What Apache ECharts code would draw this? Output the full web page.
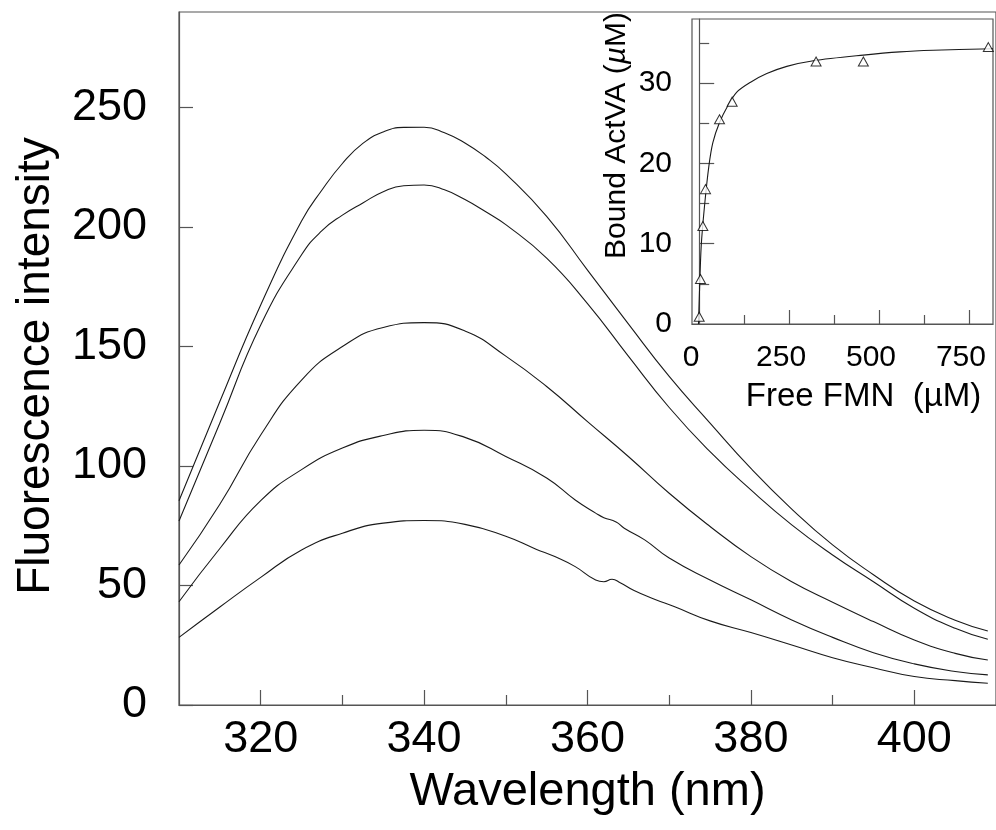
<!DOCTYPE html>
<html>
<head>
<meta charset="utf-8">
<script src="https://cdn.jsdelivr.net/npm/echarts@6/dist/echarts.min.js"></script>
<style>
html,body{margin:0;padding:0;background:#fff;}
#chart{width:996px;height:830px;}
</style>
</head>
<body>
<div id="chart"></div>
<script>
// ---- Main plot: emission spectra ----
const wavelengths1 = [310,315,320,325,327.5,330,332.5,335,337.5,340,342.5,345,347.5,350,355,360,365,370,375,380,385,390,395,400,405,409];
const curve1 = [85.5,127,167.4,202.5,215.5,226.6,235,239.8,241.7,241.8,239.5,235.2,229.4,222.3,204.5,182,159.5,137.5,118,99,82,67,54.5,43.5,35.5,31];
const wavelengths2 = [310,315,320,325,327.5,330,332.5,335,337.5,340,342.5,345,347.5,350,355,360,365,370,375,380,385,390,395,400,405,409];
const curve2 = [77,118,159,188.4,198.5,205,210.1,214.8,217.3,217.6,215.6,211.5,206.5,201,187,168,146,124.5,106,90,75.4,62.8,51.6,40.5,32.1,27.5];
const wavelengths = [310,315,320,325,330,335,340,345,350,355,360,365,370,375,380,385,390,395,400,405,409];
const curve3 = [58.6,84,113,136,150,158,160,156.5,146,133.3,118.6,104,88.6,74.7,62.1,51.6,43,34.9,27.2,21.6,18.8];
const wavelengths4 = [310,315,320,325,330,335,340,345,350,355,358.5,361,362,363.5,364.5,367,370,375,380,385,390,395,400,405,409];
const curve4 = [43.2,65.5,85.5,98.5,107.5,112.8,115,112,104,95,85.8,80.3,78.4,76.6,74,69.1,61.5,52.3,44,35.6,28.3,21.9,17.2,14,12.6];
const wavelengths5 = [310,315,320,325,330,335,340,345,350,353.7,356,358.5,361,362,363,364,365.7,368.2,370.6,375,380,385,390,395,400,405,409];
const curve5 = [28.3,41,53.4,64.9,71.9,76.1,77.2,75.6,70.6,65.2,62.1,57.9,52.3,51.6,52.6,51.2,47.9,44.3,41.2,35.2,30.3,25.1,19.8,15.6,11.9,10.2,9.1];

const mainYTicks = [0,50,100,150,200,250];
const mainXMajorTicks = [320,340,360,380,400];
const mainXMinorTicks = [330,350,370,390];

// ---- Inset: binding isotherm ----
const freeFMN = [0,3.6,10.2,17.6,56.5,91.7,325,456.5,804];
const boundActVA = [0.9,5.6,12.2,16.8,25.5,27.7,32.7,32.7,34.5];
const fitFreeFMN = [-2,1,5.6,14.8,27,38,56.5,79.6,104.6,141.7,188,243.6,317.6,456.4,558,651,817];
const fitBound = [0,4.3,9.7,14.7,19.7,22.6,25.1,27.2,28.9,30.1,31.2,32.1,32.8,33.5,33.9,34.1,34.3];

const insetXLabels = [0,250,500,750];
const insetXMajorTicks = [250,500,750];
const insetXMinorTicks = [125,375,625];
const insetYLabels = [0,10,20,30];
const insetYMajorTicks = [10,20,30];
const insetYMinorTicks = [5,15,25,35];

function pairs(xs, ys){ return xs.map((x,i)=>[x, ys[i]]); }

const FONT = "'Liberation Sans', Arial, Helvetica, sans-serif";
const AXIS_COLOR = '#555';
const LINE_COLOR = '#1a1a1a';

const chart = echarts.init(document.getElementById('chart'), null, {renderer:'canvas'});

function spectrum(xs, ys){
  return {
    type:'line', xAxisIndex:0, yAxisIndex:0,
    data: pairs(xs, ys), showSymbol:false, smooth:0.5,
    lineStyle:{color:LINE_COLOR, width:1.1}, silent:true
  };
}

chart.setOption({
  animation:false,
  backgroundColor:'#fff',
  grid:[
    {left:179, top:12, width:827, height:693, show:true, borderColor:AXIS_COLOR, borderWidth:1.2, backgroundColor:'transparent'},
    {left:692, top:19, width:301, height:305, show:true, borderColor:AXIS_COLOR, borderWidth:1.2, backgroundColor:'#fff', z:5}
  ],
  xAxis:[
    {
      gridIndex:0, type:'value', min:310, max:410, position:'bottom',
      axisLine:{show:true, lineStyle:{color:AXIS_COLOR, width:1.2}},
      axisTick:{show:true, inside:true, length:15, customValues:mainXMajorTicks, lineStyle:{color:AXIS_COLOR, width:1.2}},
      axisLabel:{show:true, customValues:mainXMajorTicks, fontSize:45, fontFamily:FONT, color:'#000', margin:12},
      splitLine:{show:false},
      name:'Wavelength (nm)', nameLocation:'middle', nameGap:64,
      nameTextStyle:{fontSize:47, fontFamily:FONT, color:'#000', padding:[0,0,0,0]}
    },
    {
      gridIndex:0, type:'value', min:310, max:410, position:'bottom',
      axisLine:{show:false},
      axisTick:{show:true, inside:true, length:10, customValues:mainXMinorTicks, lineStyle:{color:AXIS_COLOR, width:1.2}},
      axisLabel:{show:false}, splitLine:{show:false}
    },
    {
      gridIndex:1, type:'value', min:-20, max:817, position:'bottom', z:6,
      axisLine:{show:true, lineStyle:{color:AXIS_COLOR, width:1.2}},
      axisTick:{show:true, inside:true, length:14, customValues:insetXMajorTicks, lineStyle:{color:AXIS_COLOR, width:1.2}},
      axisLabel:{show:true, customValues:insetXLabels, fontSize:30, fontFamily:FONT, color:'#000', margin:19, padding:[0,16,0,0]},
      splitLine:{show:false},
      name:'Free FMN  (µM)', nameLocation:'middle', nameGap:56,
      nameTextStyle:{fontSize:33, fontFamily:FONT, color:'#000', padding:[0,0,0,42]}
    },
    {
      gridIndex:1, type:'value', min:-20, max:817, position:'bottom', z:6,
      axisLine:{show:false},
      axisTick:{show:true, inside:true, length:9, customValues:insetXMinorTicks, lineStyle:{color:AXIS_COLOR, width:1.2}},
      axisLabel:{show:false}, splitLine:{show:false}
    }
  ],
  yAxis:[
    {
      gridIndex:0, type:'value', min:0, max:290, position:'left',
      axisLine:{show:true, lineStyle:{color:AXIS_COLOR, width:1.2}},
      axisTick:{show:true, inside:true, length:14, customValues:mainYTicks, lineStyle:{color:AXIS_COLOR, width:1.2}},
      axisLabel:{show:true, customValues:mainYTicks, fontSize:45, fontFamily:FONT, color:'#000', margin:32},
      splitLine:{show:false},
      name:'Fluorescence intensity', nameLocation:'middle', nameGap:120,
      nameTextStyle:{fontSize:46, fontFamily:FONT, color:'#000', padding:[0,15,0,0]}
    },
    {
      gridIndex:1, type:'value', min:0, max:38, position:'left', z:6,
      axisLine:{show:true, lineStyle:{color:AXIS_COLOR, width:1.2}},
      axisTick:{show:true, inside:true, length:15, customValues:insetYMajorTicks, lineStyle:{color:AXIS_COLOR, width:1.2}},
      axisLabel:{show:true, customValues:insetYLabels, fontSize:30, fontFamily:FONT, color:'#000', margin:20},
      splitLine:{show:false},
      name:'{a|Bound ActVA (}{i|µ}{a|M)}', nameLocation:'middle', nameGap:60,
      nameTextStyle:{color:'#000', padding:[0,0,0,72],
        rich:{a:{fontSize:30, fontFamily:FONT, color:'#000'}, i:{fontSize:30, fontFamily:FONT, fontStyle:'italic', color:'#000'}}}
    },
    {
      gridIndex:1, type:'value', min:0, max:38, position:'left', z:6,
      axisLine:{show:false},
      axisTick:{show:true, inside:true, length:10, customValues:insetYMinorTicks, lineStyle:{color:AXIS_COLOR, width:1.2}},
      axisLabel:{show:false}, splitLine:{show:false}
    }
  ],
  series:[
    spectrum(wavelengths1, curve1),
    spectrum(wavelengths2, curve2),
    spectrum(wavelengths, curve3),
    spectrum(wavelengths4, curve4),
    spectrum(wavelengths5, curve5),
    {
      type:'line', xAxisIndex:2, yAxisIndex:1, z:7,
      data:pairs(fitFreeFMN, fitBound), showSymbol:false, smooth:0.3,
      lineStyle:{color:LINE_COLOR, width:1.1}, silent:true
    },
    {
      type:'scatter', xAxisIndex:2, yAxisIndex:1, z:8,
      data:pairs(freeFMN, boundActVA), symbol:'triangle', symbolSize:[10,9],
      itemStyle:{color:'#fff', borderColor:'#000', borderWidth:1}, silent:true
    }
  ]
});
</script>
</body>
</html>
